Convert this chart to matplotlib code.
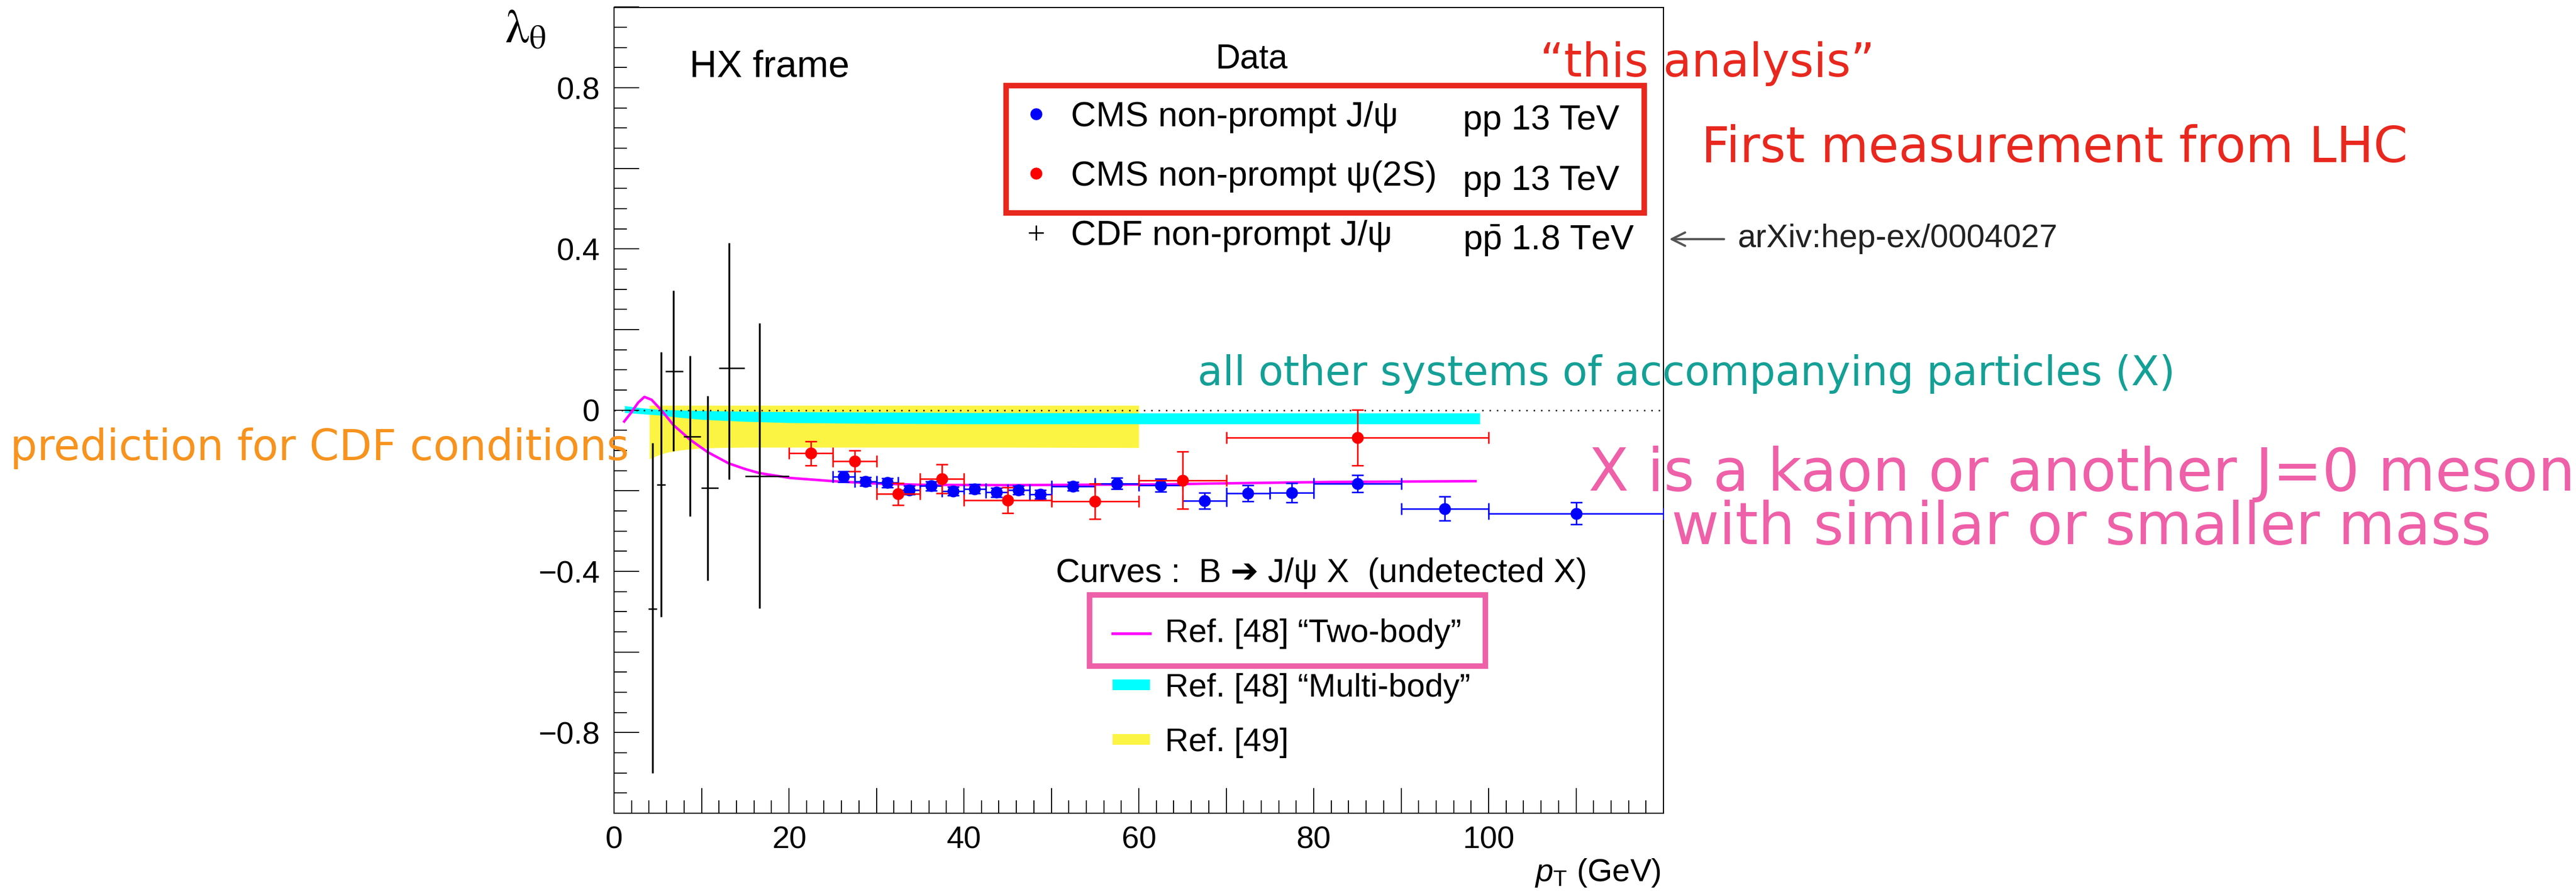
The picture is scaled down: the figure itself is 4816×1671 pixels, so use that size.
import matplotlib
matplotlib.use("Agg")
import matplotlib.pyplot as plt
from matplotlib.lines import Line2D
from matplotlib.patches import Patch, Rectangle, FancyArrowPatch
from matplotlib.ticker import MultipleLocator, FuncFormatter
import numpy as np

plt.rcParams['font.family'] = ['Liberation Sans', 'DejaVu Sans']
plt.rcParams['mathtext.fontset'] = 'custom'
plt.rcParams['mathtext.rm'] = 'Liberation Sans'
plt.rcParams['mathtext.it'] = 'Liberation Sans:italic'
plt.rcParams['mathtext.bf'] = 'Liberation Sans:bold'

# CMS non-prompt J/psi, pp 13 TeV
jpsi_pt = [26.25, 28.75, 31.25, 33.75, 36.25, 38.75, 41.25, 43.75, 46.25, 48.75,
           52.5, 57.5, 62.5, 67.5, 72.5, 77.5, 85, 95, 110]
jpsi_lo = [25, 27.5, 30, 32.5, 35, 37.5, 40, 42.5, 45, 47.5,
           50, 55, 60, 65, 70, 75, 80, 90, 100]
jpsi_hi = [27.5, 30, 32.5, 35, 37.5, 40, 42.5, 45, 47.5, 50,
           55, 60, 65, 70, 75, 80, 90, 100, 120]
jpsi_lam = [-0.165, -0.177, -0.180, -0.198, -0.188, -0.201, -0.195, -0.204, -0.198, -0.209,
            -0.189, -0.182, -0.186, -0.225, -0.206, -0.205, -0.182, -0.244, -0.256]
jpsi_err = [0.013, 0.011, 0.011, 0.011, 0.011, 0.011, 0.011, 0.011, 0.011, 0.011,
            0.011, 0.014, 0.016, 0.020, 0.0195, 0.024, 0.021, 0.0295, 0.0275]

# CMS non-prompt psi(2S), pp 13 TeV
psi2s_pt = [22.5, 27.5, 32.5, 37.5, 45, 55, 65, 85]
psi2s_lo = [20, 25, 30, 35, 40, 50, 60, 70]
psi2s_hi = [25, 30, 35, 40, 50, 60, 70, 100]
psi2s_lam = [-0.107, -0.126, -0.208, -0.170, -0.223, -0.226, -0.174, -0.068]
psi2s_err = [0.030, 0.026, 0.027, 0.036, 0.032, 0.0435, 0.071, 0.069]

# CDF non-prompt J/psi, ppbar 1.8 TeV
cdf_pt = [4.39, 5.41, 6.8, 8.69, 10.71, 13.12, 16.61]
cdf_lo = [3.9, 4.9, 5.9, 7.95, 9.95, 12.0, 15.0]
cdf_hi = [4.9, 5.9, 7.9, 9.9, 11.9, 14.95, 20.0]
cdf_lam = [-0.493, -0.185, 0.096, -0.065, -0.193, 0.105, -0.163]
cdf_err_dn = [0.407, 0.328, 0.197, 0.198, 0.229, 0.277, 0.329]
cdf_err_up = [0.412, 0.330, 0.201, 0.200, 0.228, 0.310, 0.379]

# Ref. [48] "Two-body"
twobody_pt = [1.16, 1.94, 2.76, 3.47, 4.29, 5.41, 6.8, 8.69, 10.71, 13.12, 15.0, 16.61,
              20.1, 25.0, 27.5, 30, 35, 45, 53, 63, 68, 75, 82, 98.5]
twobody_lam = [-0.028, -0.0065, 0.019, 0.033, 0.026, 0.0, -0.037, -0.073, -0.104, -0.132,
               -0.146, -0.156, -0.168, -0.176, -0.179, -0.182, -0.185, -0.186, -0.185,
               -0.184, -0.182, -0.180, -0.178, -0.176]

# Ref. [48] "Multi-body" band
multi_pt = [1.2, 3, 5, 7.5, 10, 15, 20, 30, 40, 60, 80, 99]
multi_hi = [0.011, 0.006, 0.002, 0.0, -0.001, -0.003, -0.004, -0.005, -0.006, -0.007, -0.007, -0.007]
multi_lo = [-0.006, -0.009, -0.012, -0.018, -0.023, -0.028, -0.031, -0.033, -0.034, -0.034, -0.034, -0.034]

# Ref. [49] band
ref49_pt = [4.04, 5, 6, 7, 8, 10, 12, 15, 20, 30, 45, 60]
ref49_hi = [0.012] * 12
ref49_lo = [-0.121, -0.112, -0.105, -0.101, -0.098, -0.094, -0.093, -0.092, -0.092, -0.092, -0.092, -0.093]

data_labels = ['CMS non-prompt J/\u03c8', 'CMS non-prompt \u03c8(2S)', 'CDF non-prompt J/\u03c8']
energy_labels = ['pp 13 TeV', 'pp 13 TeV', r'$\mathrm{p}\bar{\mathrm{p}}$ 1.8 TeV']
curve_labels = ['Ref. [48] \u201cTwo-body\u201d', 'Ref. [48] \u201cMulti-body\u201d', 'Ref. [49]']

YELLOW = '#fcf443'
RED_PEN = '#e8281e'
PINK_PEN = '#ee60a8'
TEAL_PEN = '#14a096'
ORANGE_PEN = '#f7931e'

W, H = 4816, 1671


def fxy(x, y):
    return x / W, 1 - y / H


fig = plt.figure(figsize=(W / 100, H / 100), dpi=100)
ax = fig.add_axes([1148 / W, 1 - 1520 / H, (3110 - 1148) / W, (1520 - 13.5) / H])

ax.fill_between(ref49_pt, ref49_lo, ref49_hi, color=YELLOW, lw=0, zorder=1)
ax.fill_between(multi_pt, multi_lo, multi_hi, color='cyan', lw=0, zorder=1.5)
ax.axhline(0, color='black', lw=1.8, linestyle=(0, (1.1, 4.4)), zorder=2)
ax.plot(twobody_pt, twobody_lam, color='magenta', lw=3.4, zorder=2.5)

cdf_pt_a = np.array(cdf_pt)
ax.errorbar(cdf_pt, cdf_lam, xerr=[cdf_pt_a - cdf_lo, np.array(cdf_hi) - cdf_pt_a],
            fmt='none', ecolor='black', elinewidth=1.9, zorder=3)
ax.errorbar(cdf_pt, cdf_lam, yerr=[cdf_err_dn, cdf_err_up],
            fmt='none', ecolor='black', elinewidth=2.5, zorder=3)

jpsi_pt_a = np.array(jpsi_pt)
ax.errorbar(jpsi_pt, jpsi_lam, yerr=jpsi_err,
            xerr=[jpsi_pt_a - jpsi_lo, np.array(jpsi_hi) - jpsi_pt_a],
            fmt='o', color='blue', ms=15, elinewidth=2, capsize=8, capthick=2, zorder=4)
psi2s_pt_a = np.array(psi2s_pt)
ax.errorbar(psi2s_pt, psi2s_lam, yerr=psi2s_err,
            xerr=[psi2s_pt_a - psi2s_lo, np.array(psi2s_hi) - psi2s_pt_a],
            fmt='o', color='red', ms=15, elinewidth=2, capsize=8, capthick=2, zorder=5)

ax.set_xlim(0, 120)
ax.set_ylim(-1, 1)
ax.xaxis.set_major_locator(MultipleLocator(10))
ax.xaxis.set_minor_locator(MultipleLocator(2))
ax.yaxis.set_major_locator(MultipleLocator(0.2))
ax.yaxis.set_minor_locator(MultipleLocator(0.05))


def xlab(v, pos):
    if v > 105 or abs(v / 20 - round(v / 20)) > 1e-6:
        return ''
    return f'{v:.0f}'


def ylab(v, pos):
    if abs(v) > 0.99 or abs(v / 0.4 - round(v / 0.4)) > 1e-6:
        return ''
    if abs(v) < 1e-9:
        return '0'
    return f'{v:.1f}'.replace('-', '\u2212')


ax.xaxis.set_major_formatter(FuncFormatter(xlab))
ax.yaxis.set_major_formatter(FuncFormatter(ylab))
ax.tick_params(which='both', direction='in', top=False, right=False, width=1.4)
ax.tick_params(which='major', length=34, labelsize=42)
ax.tick_params(which='minor', length=17)
ax.tick_params(axis='y', pad=19)
ax.tick_params(axis='x', pad=17)
for sp in ax.spines.values():
    sp.set_linewidth(1.5)

# axis titles
fig.text(*fxy(944, 14), r'$\mathrm{\lambda}_{\mathrm{\theta}}$', math_fontfamily='stix',
         fontsize=64, ha='left', va='top')
fig.text(*fxy(3105, 1647), r'$p_{\mathrm{T}}$ (GeV)', fontsize=43, ha='right', va='baseline')
fig.text(*fxy(1289, 143), 'HX frame', fontsize=51, ha='left', va='baseline')

# data legend
fig.text(*fxy(2273, 128), 'Data', fontsize=46, ha='left', va='baseline')
data_handles = [
    Line2D([], [], ls='none', marker='o', ms=15, color='blue'),
    Line2D([], [], ls='none', marker='o', ms=15, color='red'),
    Line2D([], [], ls='none', marker='+', ms=20, mew=2, color='black'),
]
fig.legend(data_handles, data_labels, loc='upper left', bbox_to_anchor=fxy(1911, 189),
           frameon=False, fontsize=47, handlelength=0.8, handletextpad=0.6,
           labelspacing=0.78, borderpad=0, borderaxespad=0)
for lab, base in zip(energy_labels, [242, 355, 467]):
    fig.text(*fxy(2735, base), lab, fontsize=47, ha='left', va='baseline')

# curve legend
fig.text(*fxy(1974, 1088), 'Curves :  B \u2794 J/\u03c8 X  (undetected X)', fontsize=45,
         ha='left', va='baseline')
curve_handles = [
    Line2D([], [], color='magenta', lw=3.8),
    Patch(facecolor='cyan', edgecolor='none'),
    Patch(facecolor=YELLOW, edgecolor='none'),
]
fig.legend(curve_handles, curve_labels, loc='upper left', bbox_to_anchor=fxy(2080, 1156),
           frameon=False, fontsize=44, handlelength=1.15, handletextpad=0.46,
           handleheight=0.127, labelspacing=0.74, borderpad=0, borderaxespad=0)

# hand-drawn style boxes around legend entries
fig.add_artist(Rectangle(fxy(1881, 398), (3074 - 1881) / W, (398 - 160) / H,
                         transform=fig.transFigure, fill=False, ec=RED_PEN, lw=7.5))
fig.add_artist(Rectangle(fxy(2037, 1245), (2777 - 2037) / W, (1245 - 1112) / H,
                         transform=fig.transFigure, fill=False, ec=PINK_PEN, lw=7.5))

# reference arrow
fig.add_artist(FancyArrowPatch(fxy(3226, 447), fxy(3118, 447), transform=fig.transFigure,
                               arrowstyle='->,head_length=18,head_width=9', color='#555555',
                               lw=3))
fig.text(*fxy(3248, 462), 'arXiv:hep-ex/0004027', fontsize=44, color='#222222',
         ha='left', va='baseline')

renderer = fig.canvas.get_renderer()


def hand_text(x0, x1, base, s, color):
    t = fig.text(*fxy(x0, base), s, color=color, family='DejaVu Sans', fontsize=40,
                 ha='left', va='baseline')
    w = t.get_window_extent(renderer).width
    t.set_fontsize(40 * (x1 - x0) / w)
    return t


hand_text(2879, 3505, 143, '\u201cthis analysis\u201d', RED_PEN)
hand_text(3181, 4501, 303, 'First measurement from LHC', RED_PEN)
hand_text(2239, 4063, 720, 'all other systems of accompanying particles (X)', TEAL_PEN)
hand_text(19, 1175, 860, 'prediction for CDF conditions', ORANGE_PEN)
hand_text(2970, 4812, 917, 'X is a kaon or another J=0 meson', PINK_PEN)
hand_text(3125, 4657, 1017, 'with similar or smaller mass', PINK_PEN)

fig.savefig('out.png', dpi=100)
